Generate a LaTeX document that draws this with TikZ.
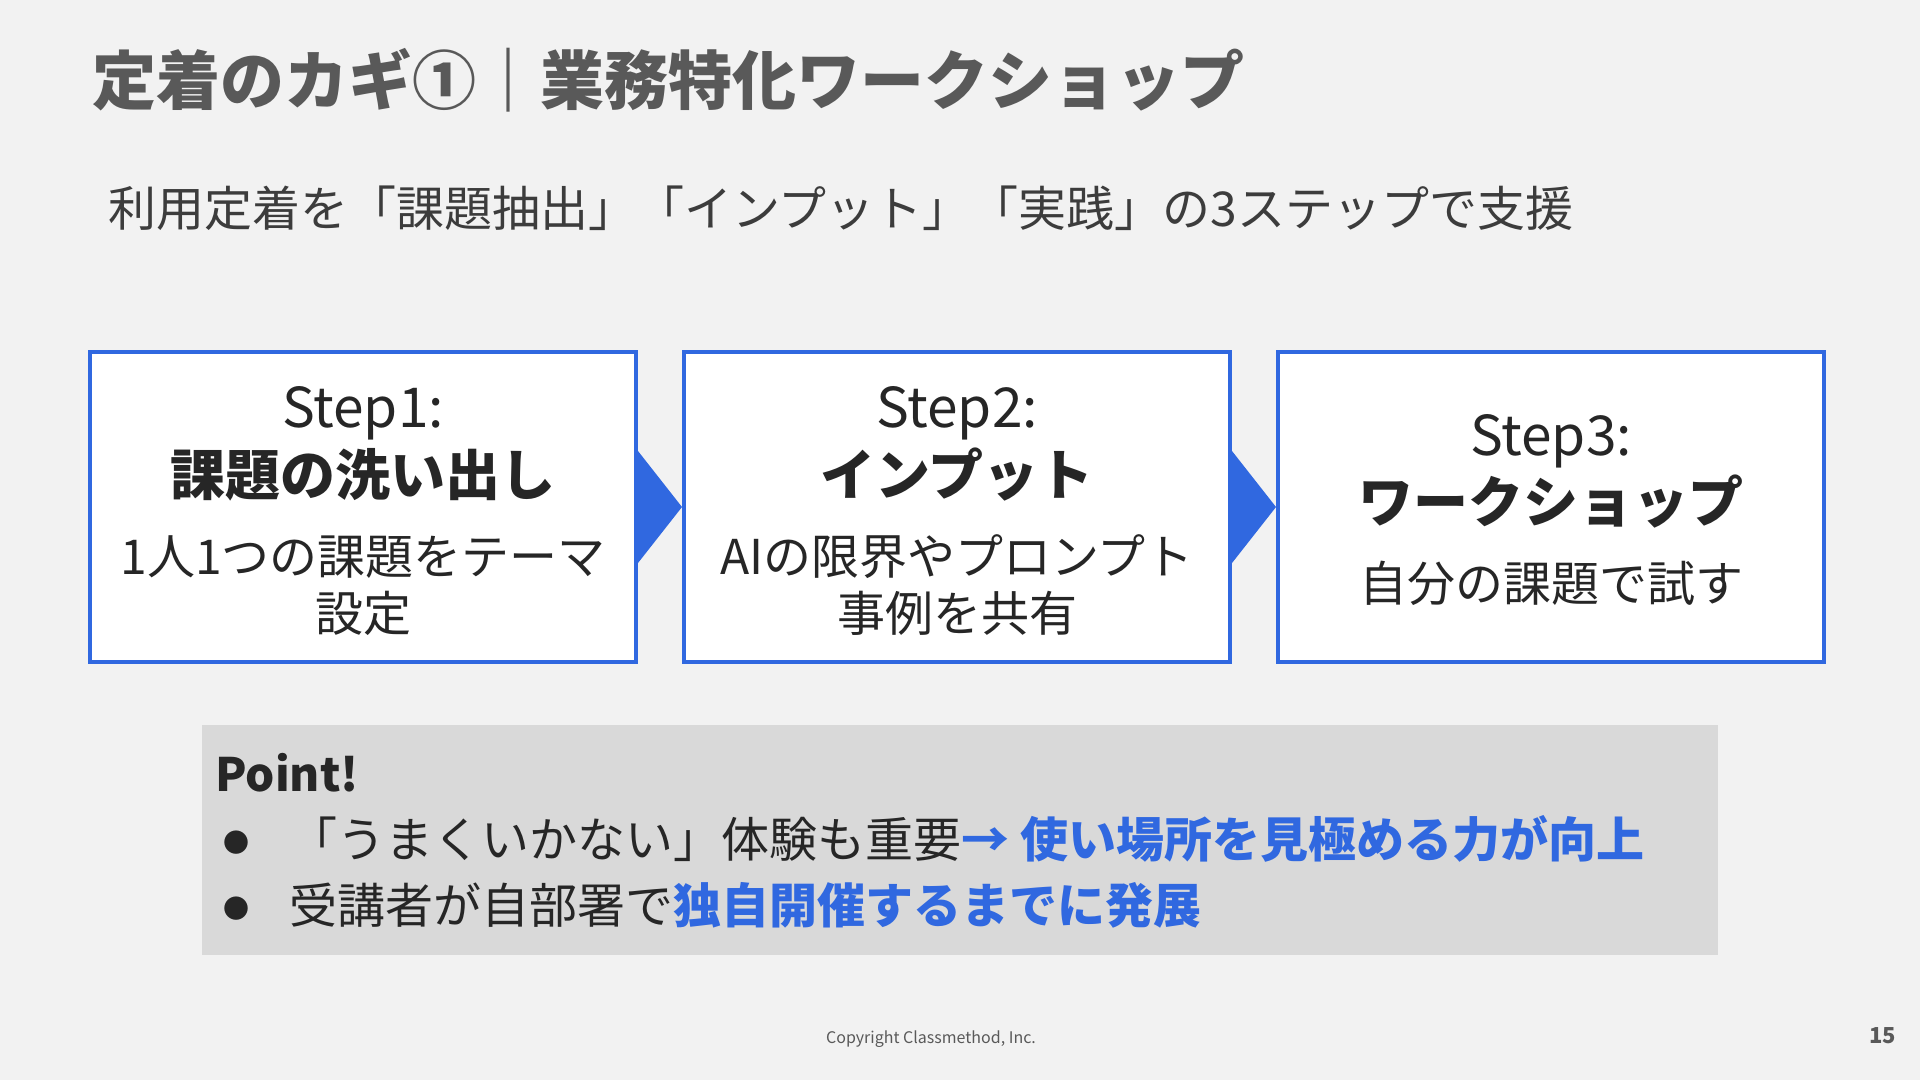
\documentclass[tikz,border=0pt]{standalone}
\usepackage{fontspec}
\setmainfont{Noto Sans CJK JP}
\usetikzlibrary{calc}
\definecolor{bg}{HTML}{F2F2F2}
\definecolor{accent}{HTML}{3068E0}
\definecolor{ink}{HTML}{262626}
\definecolor{titlegray}{HTML}{595959}
\definecolor{pointbg}{HTML}{D9D9D9}
\tikzset{
  stepbox/.style={draw=accent, line width=4pt, fill=white, minimum width=546pt, minimum height=310pt, inner sep=0pt},
  txt/.style={inner sep=0pt, text=ink},
  steplbl/.style={txt, anchor=base, font=\fontsize{55}{60}\selectfont},
  stephead/.style={txt, anchor=base, font=\fontsize{55}{60}\selectfont\bfseries},
  stepdesc/.style={txt, anchor=base, font=\fontsize{48}{56}\selectfont},
  chevron/.style={fill=accent},
  bodytxt/.style={txt, anchor=base west, font=\fontsize{48}{56}\selectfont},
  bulletmark/.style={txt, anchor=center, font=\fontsize{26}{30}\selectfont},
  foot/.style={inner sep=0pt, text=titlegray}
}
\begin{document}
\begin{tikzpicture}[x=1pt,y=-1pt]
\fill[bg] (0,0) rectangle (1920,1080);
\useasboundingbox (0,0) rectangle (1920,1080);

% title
\node[inner sep=0pt, anchor=base west, font=\fontsize{64}{70}\selectfont\bfseries, text=titlegray] (title) at (92,104) {定着のカギ①｜業務特化ワークショップ};
% subtitle
\node[bodytxt, text=ink!90] (sub) at (108,226) {利用定着を「課題抽出」「インプット」「実践」の3ステップで支援};

% step boxes
\node[stepbox] (b1) at (363,507) {};
\node[stepbox] (b2) at (957,507) {};
\node[stepbox] (b3) at (1551,507) {};

% chevrons between boxes
\fill[chevron] ($(b1.east)+(0,-56)$) -- (b2.west) -- ($(b1.east)+(0,56)$) -- cycle;
\fill[chevron] ($(b2.east)+(0,-56)$) -- (b3.west) -- ($(b2.east)+(0,56)$) -- cycle;

% box 1 text
\node[steplbl] (s1a) at (363,427) {Step1:};
\node[stephead] (s1b) at (363,495) {課題の洗い出し};
\node[stepdesc] (s1c) at (363,574) {1人1つの課題をテーマ};
\node[stepdesc] (s1d) at (363,631) {設定};
% box 2 text
\node[steplbl] (s2a) at (957,427) {Step2:};
\node[stephead] (s2b) at (957,495) {インプット};
\node[stepdesc] (s2c) at (957,574) {AIの限界やプロンプト};
\node[stepdesc] (s2d) at (957,631) {事例を共有};
% box 3 text
\node[steplbl] (s3a) at (1551,455) {Step3:};
\node[stephead] (s3b) at (1551,522) {ワークショップ};
\node[stepdesc] (s3c) at (1551,601) {自分の課題で試す};

% point box
\node[fill=pointbg, minimum width=1516pt, minimum height=230pt, inner sep=0pt] (pt) at (960,840) {};
\node[txt, anchor=base west, font=\fontsize{46}{52}\selectfont\bfseries] (ptl) at (215,791) {Point!};
\node[bulletmark] (bu1) at (236,843) {●};
\node[bodytxt] (l1) at (289,857) {「うまくいかない」体験も重要\textcolor{accent}{\bfseries → 使い場所を見極める力が向上}};
\node[bulletmark] (bu2) at (236,909) {●};
\node[bodytxt] (l2) at (289,923) {受講者が自部署で\textcolor{accent}{\bfseries 独自開催するまでに発展}};

% footer
\node[foot, anchor=base, font=\fontsize{16}{19}\selectfont] (copy) at (931,1043) {Copyright Classmethod, Inc.};
\node[foot, anchor=base east, font=\fontsize{22}{24}\selectfont\bfseries] (pg) at (1896,1043) {15};
\end{tikzpicture}
\end{document}
